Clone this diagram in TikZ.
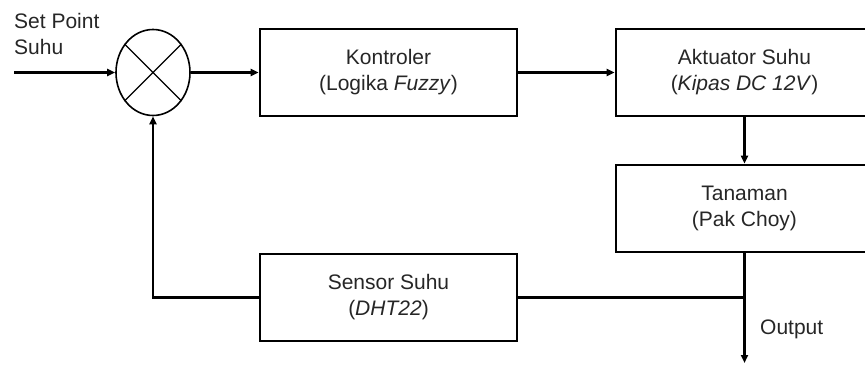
\documentclass[tikz,border=0pt]{standalone}
\usepackage{fontspec}
\setmainfont{Liberation Sans}
\usetikzlibrary{arrows.meta,shapes.geometric}

\begin{document}
\begin{tikzpicture}[x=1pt,y=-1pt,
  txt/.style={font=\fontsize{21}{26}\selectfont, text=black!85},
  block/.style={txt, draw, line width=2.8pt, minimum width=257pt, minimum height=87pt,
                inner sep=0pt, align=center},
  wire/.style={line width=2.2pt},
  sig/.style={wire, -{Triangle[length=8pt,width=7pt]}},
  lbl/.style={txt, inner sep=0pt}
]
\useasboundingbox (0,0) rectangle (865,366);
\clip (0,0) rectangle (865,366);

% summing junction
\node[draw, ellipse, line width=1.6pt, minimum width=74pt, minimum height=86pt,
      inner sep=0pt] (s) at (153,72.5) {};
\draw[line width=1.4pt] (s.45) -- (s.225) (s.135) -- (s.315);

% blocks
\node[block] (k)  at (388.5,72.5)  {Kontroler\\(Logika \textit{Fuzzy})};
\node[block] (a)  at (744.5,72.5)  {Aktuator Suhu\\(\textit{Kipas DC 12V})};
\node[block] (t)  at (744.5,208.5) {Tanaman\\(Pak Choy)};
\node[block] (se) at (388.5,297.5) {Sensor Suhu\\(\textit{DHT22})};

% labels
\node[lbl, align=left, anchor=north west] (sp) at (14,13) {Set Point\\Suhu};
\node[lbl, anchor=west] (o) at (760,329) {Output};

% connectors
\coordinate (in) at (14,72.5);
\coordinate (out) at (744.5,363);
\coordinate (j) at (t.south |- se.east);

\draw[sig] (in) -- (s.west);
\draw[sig] (s.east) -- (k.west);
\draw[sig] (k.east) -- (a.west);
\draw[sig] (a.south) -- (t.north);
\draw[sig] (t.south) -- (out);
\draw[wire] (j) -- (se.east);
\draw[sig] (se.west) -| (s.south);
\end{tikzpicture}
\end{document}
